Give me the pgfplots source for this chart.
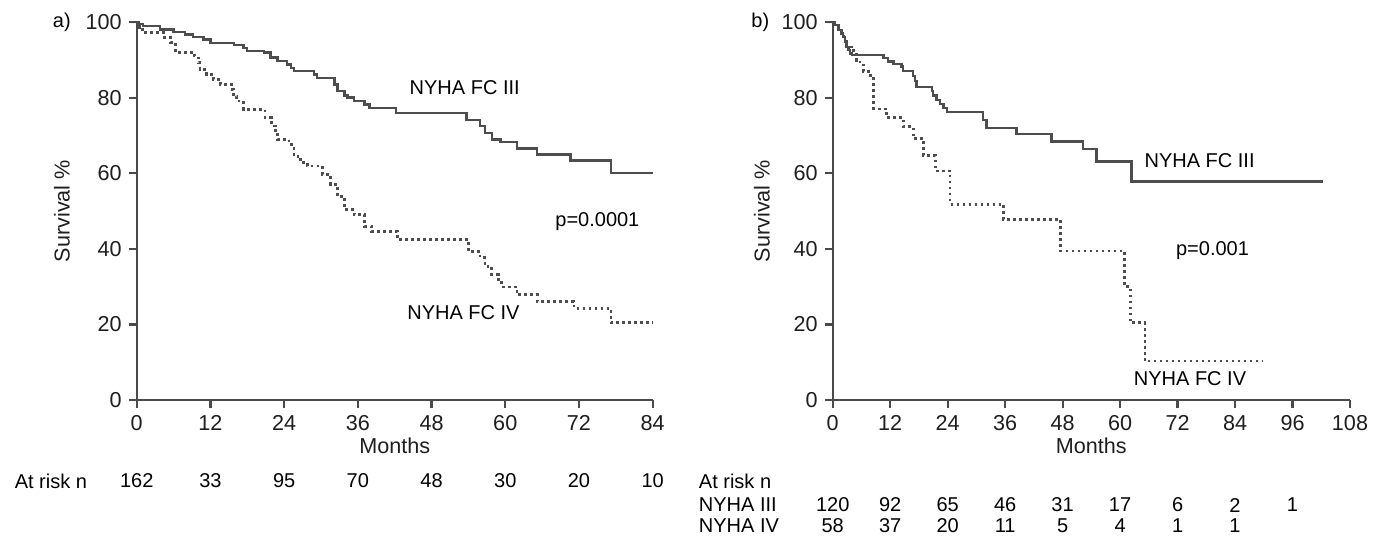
\documentclass[border=0pt]{standalone}
\usepackage{fontspec}
\setmainfont{Liberation Sans}
\usepackage{pgfplots}
\pgfplotsset{compat=1.18}
\definecolor{axgray}{HTML}{4A4A4A}
\definecolor{curvegray}{HTML}{4D4D4D}
\definecolor{txt}{HTML}{1E1E1E}

\pgfplotsset{km/.style={
    scale only axis, height=189pt,
    axis x line*=bottom, axis y line*=left,
    axis line style={axgray, line width=1.1pt},
    tick style={axgray, line width=1.1pt},
    tick align=outside, major tick length=4pt,
    ymin=0, ymax=100, ytick={0,20,...,100}, xmin=0,
    tick label style={font=\fontsize{10.8}{12}\selectfont, text=txt},
    label style={font=\fontsize{10.8}{12}\selectfont, text=txt},
    /pgf/number format/assume math mode=true,
    xlabel=Months, ylabel={Survival \%},
    xlabel style={yshift=3pt},
    clip=false,
    every node/.append style={font=\fontsize{10.8}{12}\selectfont, text=txt},
  },
  surv/.style={const plot, curvegray, line width=1.2pt},
  survdot/.style={const plot, curvegray, line width=1.4pt, dash pattern=on 1.4pt off 1.6pt},
}

\begin{document}
\begin{tikzpicture}
\useasboundingbox (0,0) rectangle (689pt,268.5pt);

% a) all patients by NYHA class
\begin{axis}[km, at={(68.35pt,68.5pt)}, anchor=south west,
    width=258pt, xmax=84, xtick={0,12,...,84},
    ylabel style={at={(rel axis cs:-0.145,0.5)}, anchor=center}]
\addplot[surv] coordinates {
(0,100) (0.4,99.5) (1.0,98.9) (3.8,98.0) (6.0,97.4) (7.9,96.7) (9.2,96.1)
(10.9,95.4) (12.0,94.5) (15.8,93.9) (17.4,93.2) (18.0,92.3) (20.7,91.9)
(21.8,90.6) (22.9,89.7) (24.5,88.8) (25.1,87.9) (25.6,87.0) (28.9,86.1)
(29.4,85.2) (32.2,83.5) (32.7,81.7) (33.8,80.6) (34.3,80.0) (35.4,79.1)
(37.1,78.2) (37.9,77.3) (42.2,76.0) (53.7,74.0) (55.9,72.5) (56.7,70.7)
(57.8,68.9) (59.2,68.2) (61.9,66.5) (65.2,65.0) (70.6,63.4) (77.2,60.1) (84,60.1)};
\addplot[survdot] coordinates {
(0,100) (0.5,98.5) (1.0,97.2) (4.3,95.9) (5.5,94.5) (6.3,91.9) (9.4,91.0)
(10.0,89.2) (10.3,87.5) (11.4,86.1) (12.5,84.8) (13.6,83.5) (15.4,82.2)
(15.8,80.4) (16.3,79.1) (17.4,76.9) (20.9,74.7) (21.9,72.5) (22.6,70.7)
(22.9,68.9) (24.8,67.6) (25.6,64.5) (26.7,62.8) (27.8,61.9) (30.2,59.7)
(31.6,57.0) (32.7,53.9) (33.8,50.4) (35.4,49.1) (37.1,46.0) (38.2,44.6)
(42.5,42.4) (54.0,39.3) (55.9,37.6) (56.7,35.4) (57.8,33.2) (58.9,31.8)
(59.4,29.9) (61.9,27.9) (65.2,26.1) (71.2,24.3) (77.2,20.5) (84,20.5)};
\node at (rel axis cs:-0.145,1) {a)};
\node at (axis cs:53.4,82.7) {NYHA FC III};
\node at (axis cs:75,47.2) {p=0.0001};
\node at (axis cs:53.2,23) {NYHA FC IV};
\node[anchor=west] at (axis cs:-21,-21.4) {At risk n};
\node at (axis cs:0,-21.4) {162};
\node at (axis cs:12,-21.4) {33};
\node at (axis cs:24,-21.4) {95};
\node at (axis cs:36,-21.4) {70};
\node at (axis cs:48,-21.4) {48};
\node at (axis cs:60,-21.4) {30};
\node at (axis cs:72,-21.4) {20};
\node at (axis cs:84,-21.4) {10};
\end{axis}

% b) second cohort
\begin{axis}[km, at={(416.35pt,68.5pt)}, anchor=south west,
    width=258.65pt, xmax=108, xtick={0,12,...,108},
    ylabel style={at={(rel axis cs:-0.137,0.5)}, anchor=center}]
\addplot[surv] coordinates {
(0,100) (0.5,99.2) (1.2,97.9) (1.9,97.0) (2.2,96.1) (2.6,94.8) (2.9,93.4)
(3.3,92.6) (3.6,91.7) (4.0,91.2) (10.6,90.5) (11.6,89.6) (12.7,88.9)
(14.4,88.2) (14.7,87.0) (16.8,85.7) (17.2,84.4) (17.5,82.8) (20.7,81.8)
(21.0,80.6) (21.7,79.4) (22.4,78.3) (23.1,77.3) (23.8,76.2) (31.4,74.0)
(32.1,72.0) (38.4,70.4) (45.7,68.4) (52.3,66.4) (55.1,63.1) (62.4,57.8) (102.4,57.8)};
\addplot[survdot] coordinates {
(0,100) (0.5,99.2) (1.2,97.9) (1.9,97.0) (2.2,96.1) (2.6,94.8) (2.9,93.4)
(4.3,91.5) (5.0,89.9) (5.7,88.6) (6.4,86.8) (7.4,85.9) (8.5,77.0) (11.3,74.8)
(14.7,72.4) (16.8,69.1) (18.9,64.7) (21.4,60.6) (24.5,51.8) (35.6,47.8)
(47.5,39.4) (61.0,30.0) (62.1,20.5) (65.2,10.3) (89.6,10.3)};
\node at (rel axis cs:-0.14,1) {b)};
\node at (axis cs:76.6,63.3) {NYHA FC III};
\node at (axis cs:79.3,39.4) {p=0.001};
\node at (axis cs:74.6,5.6) {NYHA FC IV};
\node[anchor=west] at (axis cs:-29.4,-21.6) {At risk n};
\node[anchor=west] at (axis cs:-29.4,-27.8) {NYHA III};
\node[anchor=west] at (axis cs:-29.4,-33.2) {NYHA IV};
\node at (axis cs:0,-27.8) {120};
\node at (axis cs:12,-27.8) {92};
\node at (axis cs:24,-27.8) {65};
\node at (axis cs:36,-27.8) {46};
\node at (axis cs:48,-27.8) {31};
\node at (axis cs:60,-27.8) {17};
\node at (axis cs:72,-27.8) {6};
\node at (axis cs:84,-27.8) {2};
\node at (axis cs:96,-27.8) {1};
\node at (axis cs:0,-33.2) {58};
\node at (axis cs:12,-33.2) {37};
\node at (axis cs:24,-33.2) {20};
\node at (axis cs:36,-33.2) {11};
\node at (axis cs:48,-33.2) {5};
\node at (axis cs:60,-33.2) {4};
\node at (axis cs:72,-33.2) {1};
\node at (axis cs:84,-33.2) {1};
\end{axis}
\end{tikzpicture}
\end{document}
